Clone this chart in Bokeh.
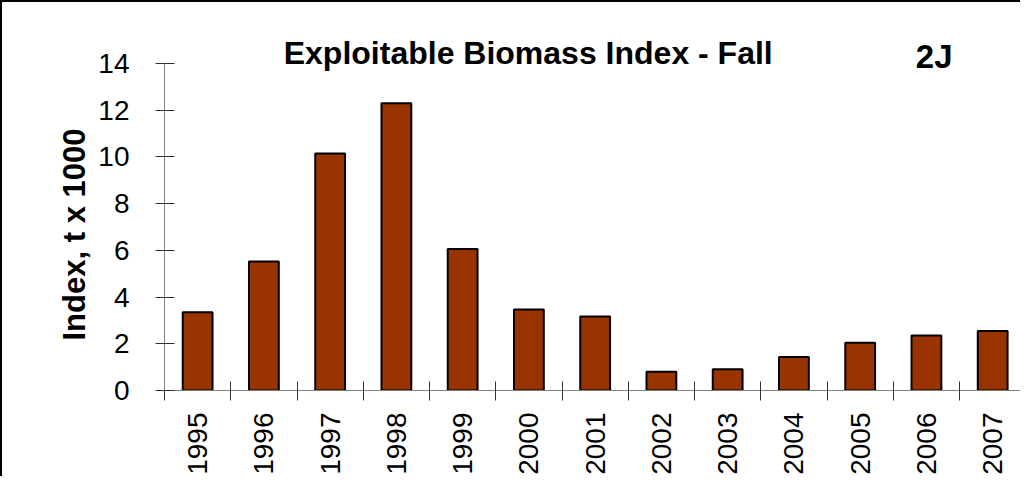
from bokeh.plotting import figure
from bokeh.models import Range1d, FixedTicker, Label, Title
from bokeh.embed import file_html
from bokeh.resources import INLINE

# Exploitable biomass index, fall survey, division 2J
years = ["1995", "1996", "1997", "1998", "1999", "2000", "2001",
         "2002", "2003", "2004", "2005", "2006", "2007"]
index_t1000 = [3.35, 5.52, 10.15, 12.3, 6.06, 3.47, 3.17,
               0.80, 0.91, 1.43, 2.04, 2.35, 2.55]
y_ticks = [0, 2, 4, 6, 8, 10, 12, 14]

centers = [i + 0.5 for i in range(len(years))]
bounds = list(range(len(years) + 1))

FONT = "Liberation Sans"

# frame runs up to the top of the canvas so the title labels are not clipped
p = figure(width=1020, height=476, output_backend="svg", toolbar_location=None,
           x_range=Range1d(0, 12.95), y_range=Range1d(0, 16.61),
           min_border_left=162, min_border_right=0,
           min_border_top=0, min_border_bottom=88)
p.styles = {"border-top": "2px solid black", "border-left": "2px solid black"}
p.outline_line_color = None
p.xgrid.visible = False
p.ygrid.visible = False
p.background_fill_color = "white"

p.vbar(x=centers, top=index_t1000, width=0.45, bottom=0,
       fill_color="#993300", line_color="black", line_width=2)

# x axis: labels in the middle of each category, ticks on the boundaries
xa = p.xaxis[0]
xa.ticker = FixedTicker(ticks=centers, minor_ticks=bounds)
xa.major_label_overrides = {c: y for c, y in zip(centers, years)}
xa.major_label_orientation = 1.5708
xa.major_tick_in = 0
xa.major_tick_out = 0
xa.minor_tick_in = 9
xa.minor_tick_out = 10
xa.minor_tick_line_color = "#303030"
xa.axis_line_color = "#808080"
xa.major_label_text_font = FONT
xa.major_label_text_font_size = "28px"
xa.major_label_text_color = "black"
xa.major_label_standoff = 12

ya = p.yaxis[0]
ya.ticker = FixedTicker(ticks=y_ticks)
ya.bounds = (0, max(y_ticks))
ya.minor_tick_line_color = None
ya.major_tick_in = 10
ya.major_tick_out = 9
ya.major_tick_line_color = "#303030"
ya.axis_line_color = "#808080"
ya.major_label_text_font = FONT
ya.major_label_text_font_size = "28px"
ya.major_label_text_color = "black"
ya.major_label_standoff = 26

# y label as a side title so it sits on the 0-14 part of the axis
p.add_layout(Title(text="Index, t x 1000", align="left", offset=50, standoff=8,
                   text_font=FONT, text_font_size="31px", text_font_style="bold",
                   text_color="black"), "left")

p.add_layout(Label(x=5.49, y=14.43, text="Exploitable Biomass Index - Fall",
                   text_font=FONT, text_font_size="32px", text_font_style="bold",
                   text_align="center", text_baseline="alphabetic", text_color="black"))
p.add_layout(Label(x=11.34, y=14.30, text="2J",
                   text_font=FONT, text_font_size="33px", text_font_style="bold",
                   text_align="left", text_baseline="alphabetic", text_color="black"))

open("out.html", "w").write(file_html(p, INLINE))
